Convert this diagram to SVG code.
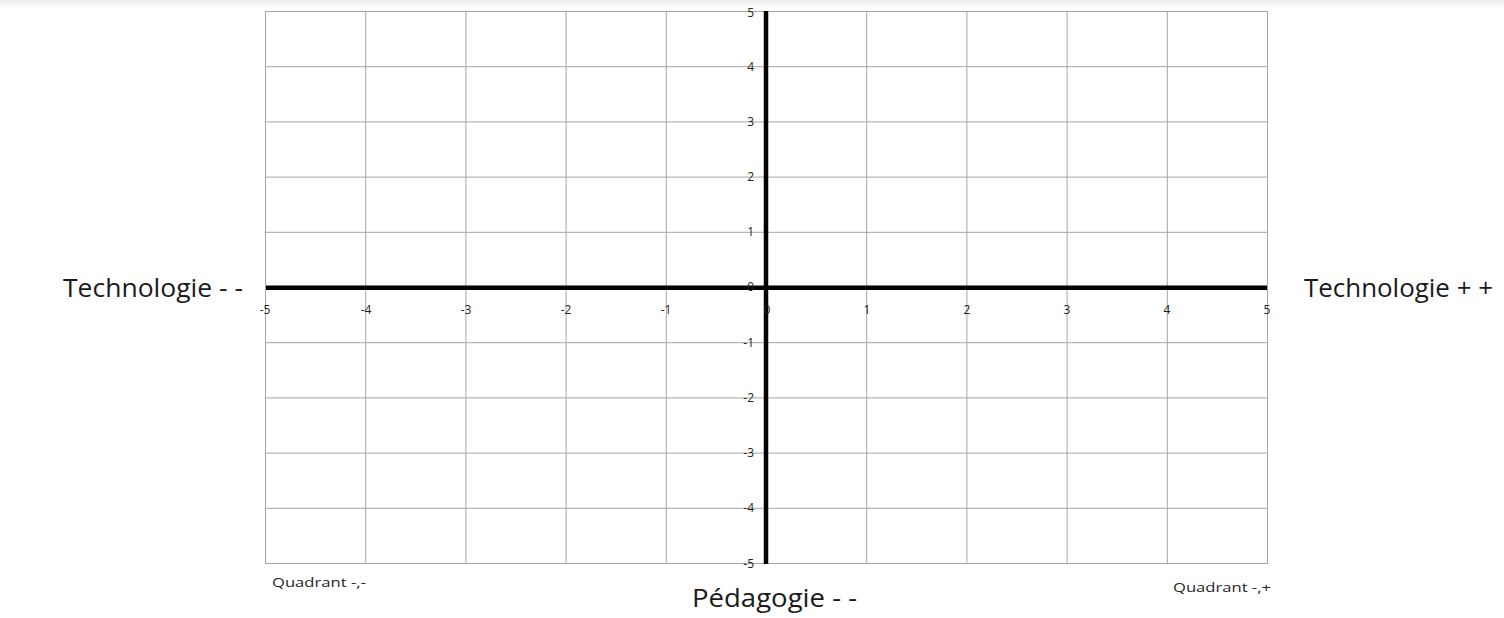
<svg xmlns="http://www.w3.org/2000/svg" width="1504" height="618" viewBox="0 0 1504 618">
<defs>
<linearGradient id="topband" x1="0" y1="0" x2="0" y2="1">
<stop offset="0" stop-color="#ececec"/>
<stop offset="1" stop-color="#ffffff"/>
</linearGradient>
</defs>
<style>
.grid{stroke:#a6a6a6;stroke-width:1;fill:none}
.axis{stroke:#000;stroke-width:4.5;fill:none}
.tick{font-family:"Open Sans","Liberation Sans",sans-serif;font-size:12px;fill:#222}
.big{font-family:"Open Sans","Liberation Sans",sans-serif;font-size:25px;fill:#1a1a1a}
.quad{font-family:"Open Sans","Liberation Sans",sans-serif;font-size:12.5px;fill:#262626}
</style>
<rect x="0" y="0" width="1504" height="618" fill="#fff"/>
<rect x="0" y="0" width="1504" height="8" fill="url(#topband)"/>
<g id="grid">
<rect class="grid" x="265.5" y="11.5" width="1002" height="552"/>
<path class="grid" d="M365.7 11V564M465.9 11V564M566.1 11V564M666.3 11V564M866.7 11V564M966.9 11V564M1067.1 11V564M1167.3 11V564M265 66.7H1268M265 121.9H1268M265 177.1H1268M265 232.3H1268M265 342.7H1268M265 397.9H1268M265 453.1H1268M265 508.3H1268"/>
</g>
<g id="connectors">
<line class="axis" x1="266" y1="287.8" x2="1267" y2="287.8"/>
<line class="axis" x1="766" y1="11" x2="766" y2="564"/>
</g>
<g id="y-ticks" class="tick" text-anchor="end">
<text x="754" y="17">5</text>
<text x="754" y="71">4</text>
<text x="754" y="126">3</text>
<text x="754" y="181">2</text>
<text x="754" y="236">1</text>
<text x="754" y="291">0</text>
<text x="754" y="347">-1</text>
<text x="754" y="402">-2</text>
<text x="754" y="457">-3</text>
<text x="754" y="512">-4</text>
<text x="754" y="568">-5</text>
</g>
<g id="x-ticks" class="tick" text-anchor="middle">
<text x="265" y="314">-5</text>
<text x="366" y="314">-4</text>
<text x="466" y="314">-3</text>
<text x="566" y="314">-2</text>
<text x="666" y="314">-1</text>
<text x="767" y="314">0</text>
<text x="867" y="314">1</text>
<text x="967" y="314">2</text>
<text x="1067" y="314">3</text>
<text x="1167" y="314">4</text>
<text x="1267" y="314">5</text>
</g>
<g id="label-left"><text class="big" x="63" y="297" textLength="180" lengthAdjust="spacingAndGlyphs">Technologie - -</text></g>
<g id="label-right"><text class="big" x="1304" y="297" textLength="189" lengthAdjust="spacingAndGlyphs">Technologie + +</text></g>
<g id="label-bottom"><text class="big" x="692" y="607" textLength="165" lengthAdjust="spacingAndGlyphs">Pédagogie - -</text></g>
<g id="quad-left"><text class="quad" x="272" y="587" textLength="94" lengthAdjust="spacingAndGlyphs">Quadrant -,-</text></g>
<g id="quad-right"><text class="quad" x="1173" y="592" textLength="98" lengthAdjust="spacingAndGlyphs">Quadrant -,+</text></g>
</svg>
